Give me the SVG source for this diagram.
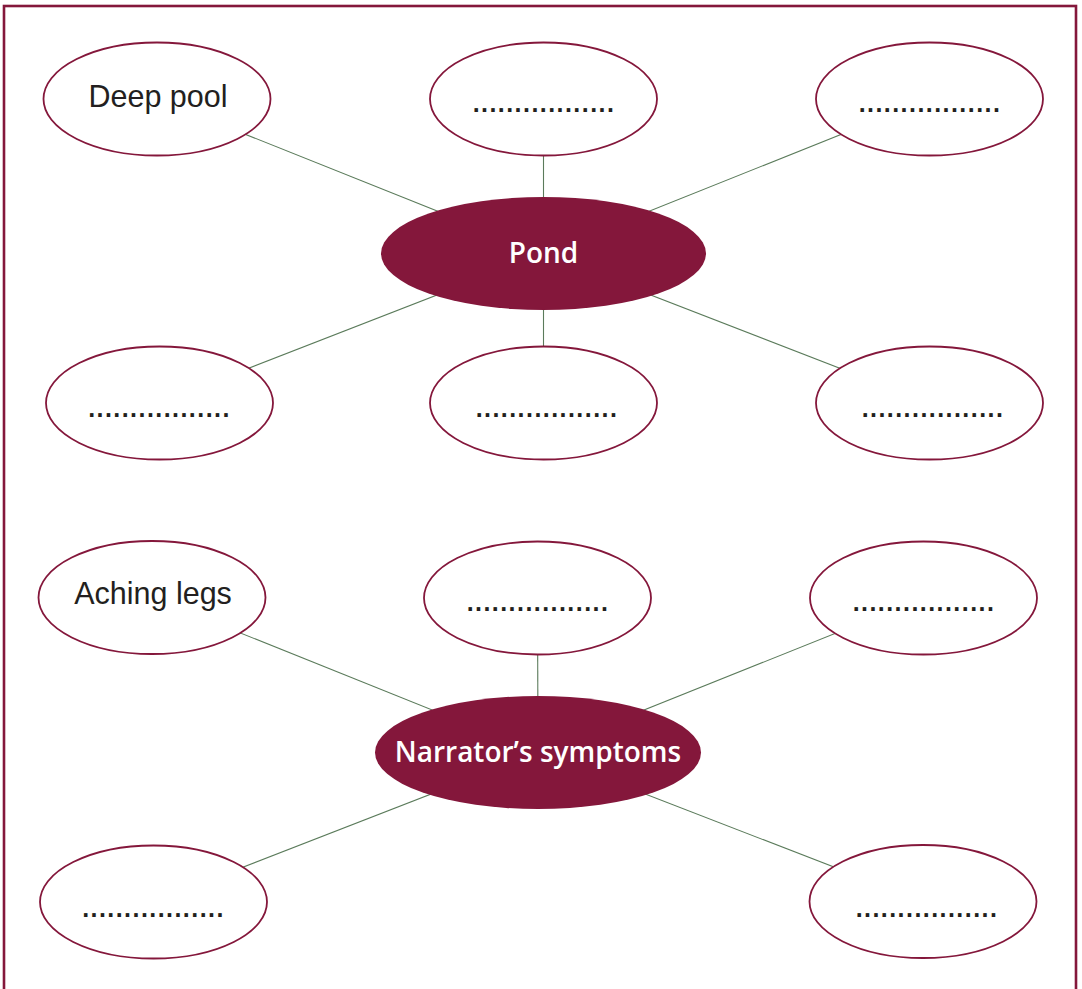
<svg xmlns="http://www.w3.org/2000/svg" width="1082" height="989" viewBox="0 0 1082 989">
<style>
.frame{fill:#fff;stroke:#84173b;stroke-width:2.6}
.leaf{fill:#fff;stroke:#84173b;stroke-width:1.8}
.hub{fill:#84173b;stroke:none}
.lbl{font-family:"Liberation Sans",Arial,sans-serif;font-size:30.5px;fill:#231f20;text-anchor:middle}
.dots{font-family:"Liberation Sans",Arial,sans-serif;font-weight:bold;font-size:25px;fill:#231f20;text-anchor:middle;letter-spacing:1.45px}
.hubt{font-family:"Open Sans",sans-serif;font-weight:600;font-size:28px;fill:#fff;text-anchor:middle}
#connectors line{stroke:#5b7b5b;stroke-width:1.1}
</style>
<rect class="frame" x="4" y="6" width="1072" height="1000"/>
<g id="connectors">
<line x1="157" y1="99" x2="543.5" y2="253.5"/>
<line x1="543.5" y1="99" x2="543.5" y2="253.5"/>
<line x1="929.5" y1="99" x2="543.5" y2="253.5"/>
<line x1="159.5" y1="403" x2="543.5" y2="253.5"/>
<line x1="543.5" y1="403" x2="543.5" y2="253.5"/>
<line x1="929.5" y1="403" x2="543.5" y2="253.5"/>
<line x1="152" y1="597.5" x2="538" y2="752.5"/>
<line x1="537.5" y1="598" x2="538" y2="752.5"/>
<line x1="923.5" y1="598" x2="538" y2="752.5"/>
<line x1="153.5" y1="902" x2="538" y2="752.5"/>
<line x1="923" y1="901.5" x2="538" y2="752.5"/>
</g>
<g id="deep-pool"><ellipse class="leaf" cx="157" cy="99" rx="113.5" ry="56.5"/><text class="lbl" x="158" y="107">Deep pool</text></g>
<g id="pond-top-mid"><ellipse class="leaf" cx="543.5" cy="99" rx="113.5" ry="56.5"/><text class="dots" x="544" y="112">.................</text></g>
<g id="pond-top-right"><ellipse class="leaf" cx="929.5" cy="99" rx="113.5" ry="56.5"/><text class="dots" x="930" y="112">.................</text></g>
<g id="pond"><ellipse class="hub" cx="543.5" cy="253.5" rx="162.5" ry="56.5"/><text class="hubt" x="543.5" y="263">Pond</text></g>
<g id="pond-bot-left"><ellipse class="leaf" cx="159.5" cy="403" rx="113.5" ry="56.5"/><text class="dots" x="159.5" y="417">.................</text></g>
<g id="pond-bot-mid"><ellipse class="leaf" cx="543.5" cy="403" rx="113.5" ry="56.5"/><text class="dots" x="547" y="417">.................</text></g>
<g id="pond-bot-right"><ellipse class="leaf" cx="929.5" cy="403" rx="113.5" ry="56.5"/><text class="dots" x="933" y="417">.................</text></g>
<g id="aching-legs"><ellipse class="leaf" cx="152" cy="597.5" rx="113.5" ry="56.5"/><text class="lbl" x="153" y="604">Aching legs</text></g>
<g id="sym-top-mid"><ellipse class="leaf" cx="537.5" cy="598" rx="113.5" ry="56.5"/><text class="dots" x="538" y="611">.................</text></g>
<g id="sym-top-right"><ellipse class="leaf" cx="923.5" cy="598" rx="113.5" ry="56.5"/><text class="dots" x="924" y="611">.................</text></g>
<g id="narrator"><ellipse class="hub" cx="538" cy="752.5" rx="163" ry="56.5"/><text class="hubt" x="538" y="762">Narrator’s symptoms</text></g>
<g id="sym-bot-left"><ellipse class="leaf" cx="153.5" cy="902" rx="113.5" ry="56.5"/><text class="dots" x="153.5" y="917">.................</text></g>
<g id="sym-bot-right"><ellipse class="leaf" cx="923" cy="901.5" rx="113.5" ry="56.5"/><text class="dots" x="927" y="917">.................</text></g>
</svg>
